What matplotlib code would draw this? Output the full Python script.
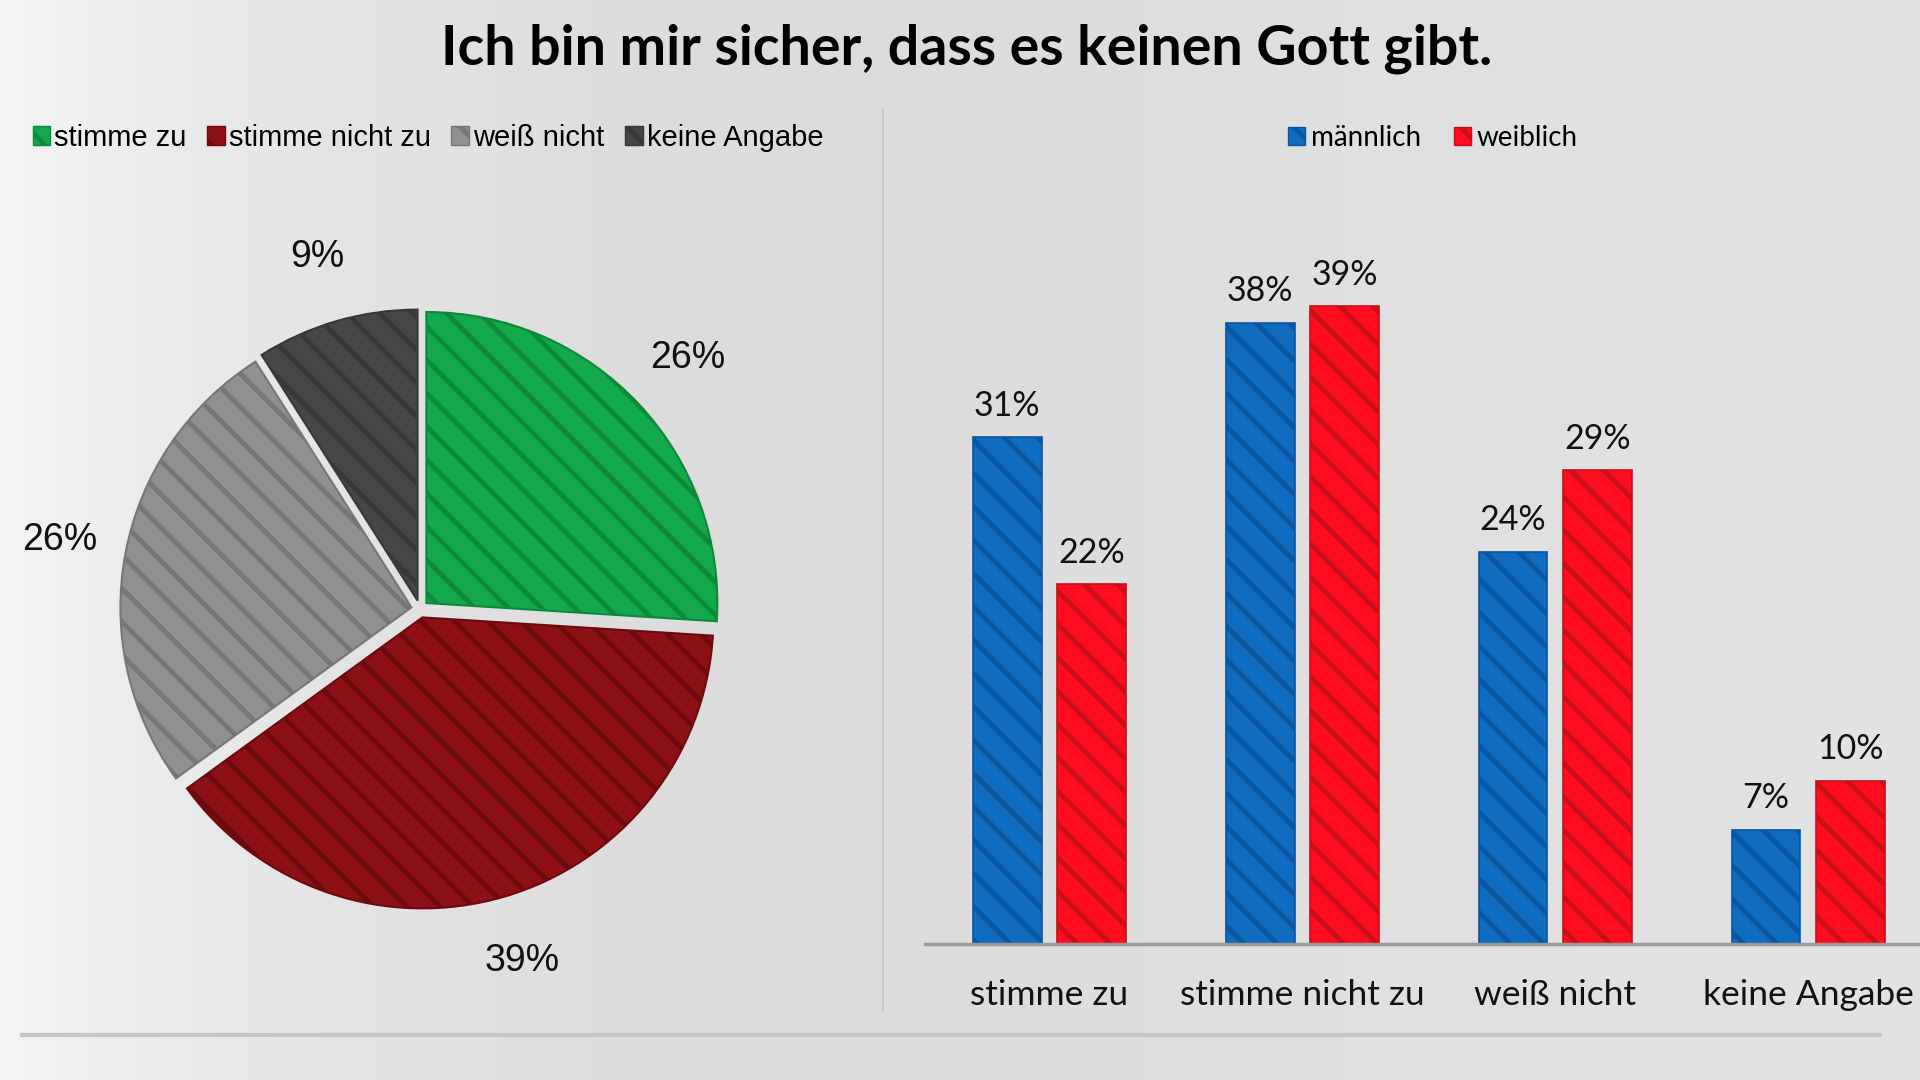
import numpy as np
import matplotlib
matplotlib.use("Agg")
import matplotlib.pyplot as plt
from matplotlib.patches import Patch
from matplotlib.lines import Line2D

# ---------------- data ----------------
title = "Ich bin mir sicher, dass es keinen Gott gibt."
pie_labels = ["stimme zu", "stimme nicht zu", "weiß nicht", "keine Angabe"]
pie_values = [26, 39, 26, 9]
categories = ["stimme zu", "stimme nicht zu", "weiß nicht", "keine Angabe"]
male = [31, 38, 24, 7]
female = [22, 39, 29, 10]
series_names = ["männlich", "weiblich"]

# ---------------- style ----------------
pie_fill = ["#12a84b", "#8c1015", "#909090", "#464646"]
pie_hatch = ["#0c8a3a", "#6c0a0e", "#767676", "#383838"]
bar_fill = ["#0f6cc0", "#ff0c1e"]
bar_hatch = ["#0a55a0", "#c80e18"]

plt.rcParams["hatch.linewidth"] = 3.5

W, H = 1920, 1080
fig = plt.figure(figsize=(W / 100, H / 100), dpi=100)

# background gradient (decoration)
bg = fig.add_axes([0, 0, 1, 1], zorder=-10)
xs = np.linspace(0, 1, 400)
stops_x = [0.0, 0.06, 0.2, 0.35, 0.5, 0.7, 1.0]
stops_v = [0.955, 0.925, 0.885, 0.86, 0.86, 0.875, 0.885]
vals = np.interp(xs, stops_x, stops_v)
img = np.tile(vals, (10, 1))
bg.imshow(img, cmap="gray", vmin=0, vmax=1, aspect="auto", extent=[0, 1, 0, 1])
bg.set_axis_off()

# title
fig.text(967 / W, 1 - 49 / H, title, ha="center", va="center",
         fontsize=40, fontweight="bold", family="Lato", color="#000000")

# separator lines
fig.add_artist(Line2D([883 / W, 883 / W], [1 - 110 / H, 1 - 1010 / H],
                      color="#c9c9c9", lw=1.5, transform=fig.transFigure))
fig.add_artist(Line2D([22 / W, 1880 / W], [1 - 1035 / H, 1 - 1035 / H],
                      color="#c6c6c6", lw=3, transform=fig.transFigure))

# ---------------- pie ----------------
r_px = 291
cx, cy = 420, 609
half = 1.2 * r_px
axp = fig.add_axes([(cx - half) / W, 1 - (cy + half) / H, 2 * half / W, 2 * half / H])
wedges, texts, autotexts = axp.pie(
    pie_values, startangle=90, counterclock=False,
    explode=[0.03] * 4, autopct=lambda p: f"{p:.0f}%", pctdistance=1.23,
    wedgeprops=dict(linewidth=1.5),
    textprops=dict(fontsize=27, family="Liberation Sans", color="#111111"))
for w, fc, hc in zip(wedges, pie_fill, pie_hatch):
    w.set_facecolor(fc)
    w.set_edgecolor(hc)
    w.set_hatch("\\")
axp.set_xlim(-1.2, 1.2)
axp.set_ylim(-1.2, 1.2)
axp.set_aspect("equal")
axp.set_axis_off()

handles = [Patch(facecolor=fc, edgecolor=hc, hatch="\\") for fc, hc in zip(pie_fill, pie_hatch)]
fig.legend(handles, pie_labels, loc="center", bbox_to_anchor=(428 / W, 1 - 138 / H),
           ncol=4, frameon=False, prop=dict(family="Liberation Sans", size=21),
           handlelength=0.6, handleheight=0.6, handletextpad=0.15, columnspacing=0.7)

# ---------------- bars ----------------
px_per_pct = 16.35
ymax = 45
base_y = 944
spacing = 252.9
left_px = 925
x0 = 1049.5
xl = -(x0 - left_px) / spacing
xr = (W - x0) / spacing
axb = fig.add_axes([left_px / W, 1 - base_y / H, (W - left_px) / W, ymax * px_per_pct / H])
axb.patch.set_alpha(0)
x = np.arange(len(categories))
bw = 68.6 / spacing
off = 42.2 / spacing
for vals_, dx, fc, hc, nm in zip([male, female], [-off, off], bar_fill, bar_hatch, series_names):
    bars = axb.bar(x + dx, vals_, width=bw, facecolor=fc, edgecolor=hc, hatch="\\",
                   linewidth=1.2, label=nm)
    axb.bar_label(bars, labels=[f"{v}%" for v in vals_], padding=11,
                  fontsize=24.5, family="Lato", color="#111111")
axb.set_xlim(xl, xr)
axb.set_ylim(0, ymax)
for s in ["top", "right", "left"]:
    axb.spines[s].set_visible(False)
axb.spines["bottom"].set_color("#9a9a9a")
axb.spines["bottom"].set_linewidth(2.5)
axb.set_yticks([])
axb.set_xticks(x)
axb.set_xticklabels(categories, fontsize=25.5, family="Lato", color="#111111")
axb.tick_params(axis="x", length=0, pad=25)

bh = [Patch(facecolor=fc, edgecolor=hc, hatch="\\") for fc, hc in zip(bar_fill, bar_hatch)]
fig.legend(bh, series_names, loc="center", bbox_to_anchor=(1433 / W, 1 - 138 / H),
           ncol=2, frameon=False, prop=dict(family="Lato", size=20),
           handlelength=0.6, handleheight=0.6, handletextpad=0.2, columnspacing=1.2)

fig.savefig("out.png", dpi=100)
